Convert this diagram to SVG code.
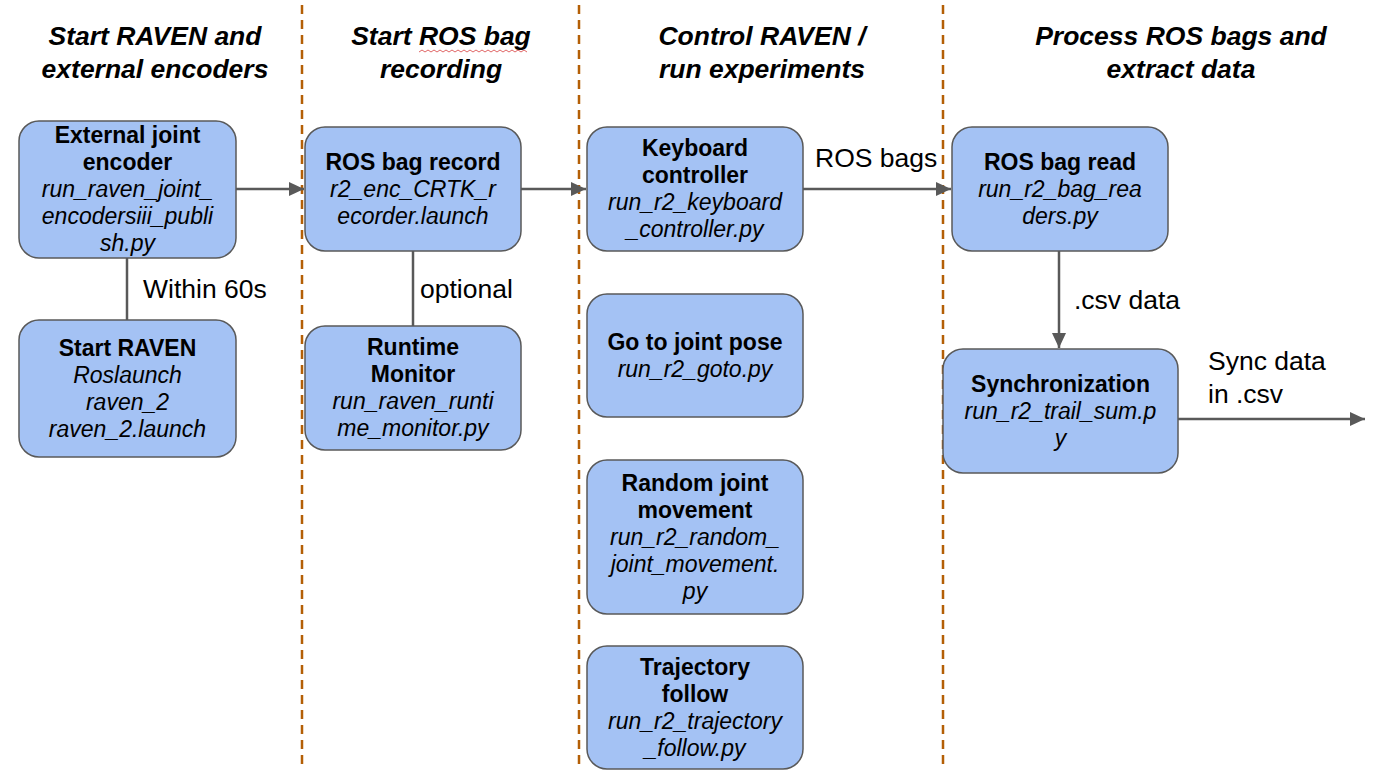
<svg xmlns="http://www.w3.org/2000/svg" width="1376" height="774" viewBox="0 0 1376 774">
<defs>
<marker id="ah" markerWidth="16" markerHeight="14" refX="15" refY="7" orient="auto" markerUnits="userSpaceOnUse">
<path d="M0,0 L15,7 L0,14 Z" fill="#595959"/>
</marker>
<style>
.box{fill:#a4c2f4;stroke:#595959;stroke-width:1.5}
.t{font-family:"Liberation Sans",Arial,sans-serif;font-size:23px;fill:#000;text-anchor:middle}
.b{font-weight:bold}
.i{font-style:italic}
.h{font-family:"Liberation Sans",Arial,sans-serif;font-size:26.5px;font-weight:bold;font-style:italic;fill:#000;text-anchor:middle}
.lbl{font-family:"Liberation Sans",Arial,sans-serif;font-size:26.5px;fill:#000}
.sep{stroke:#b45f06;stroke-width:2.5;stroke-dasharray:9 6;fill:none}
.c{stroke:#595959;stroke-width:2.5;fill:none}
</style>
</defs>
<rect width="1376" height="774" fill="#fff"/>

<g id="separators">
<line class="sep" x1="302" y1="5" x2="302" y2="768"/>
<line class="sep" x1="579" y1="5" x2="579" y2="768"/>
<line class="sep" x1="943" y1="5" x2="943" y2="768"/>
</g>

<g id="headings">
<text class="h" x="155" y="45">Start RAVEN and</text>
<text class="h" x="155" y="78">external encoders</text>
<text class="h" x="441" y="45">Start ROS bag</text>
<text class="h" x="441" y="78">recording</text>
<path d="M419,52 l3,-2 l3,2 l3,-2 l3,2 l3,-2 l3,2 l3,-2 l3,2 l3,-2 l3,2 l3,-2 l3,2 l3,-2 l3,2 l3,-2 l3,2 l3,-2 l3,2 l3,-2 l3,2 l3,-2 l3,2 l3,-2 l3,2 l3,-2 l3,2 l3,-2 l3,2 l3,-2 l3,2 l3,-2 l3,2 l3,-2 l3,2 l3,-2 l3,2" fill="none" stroke="#e06666" stroke-width="1"/>
<text class="h" x="762" y="45">Control RAVEN /</text>
<text class="h" x="762" y="78">run experiments</text>
<text class="h" x="1181" y="45">Process ROS bags and</text>
<text class="h" x="1181" y="78">extract data</text>
</g>

<g id="connectors">
<line class="c" x1="236" y1="189" x2="304" y2="189" marker-end="url(#ah)"/>
<line class="c" x1="127" y1="258" x2="127" y2="320"/>
<line class="c" x1="413" y1="251" x2="413" y2="326"/>
<line class="c" x1="521" y1="189" x2="586" y2="189" marker-end="url(#ah)"/>
<line class="c" x1="803" y1="189" x2="951" y2="189" marker-end="url(#ah)"/>
<line class="c" x1="1059" y1="251" x2="1059" y2="348" marker-end="url(#ah)"/>
<line class="c" x1="1178" y1="419" x2="1365" y2="419" marker-end="url(#ah)"/>
<text class="lbl" x="143" y="298">Within 60s</text>
<text class="lbl" x="420" y="298">optional</text>
<text class="lbl" x="815" y="167">ROS bags</text>
<text class="lbl" x="1074" y="309">.csv data</text>
<text class="lbl" x="1208" y="370">Sync data</text>
<text class="lbl" x="1208" y="403">in .csv</text>
</g>

<g id="external-encoder">
<rect class="box" x="19" y="121" width="217" height="137" rx="20"/>
<text class="t b" x="127.5" y="143">External joint</text>
<text class="t b" x="127.5" y="170">encoder</text>
<text class="t i" x="127.5" y="197">run_raven_joint_</text>
<text class="t i" x="127.5" y="224">encodersiii_publi</text>
<text class="t i" x="127.5" y="251">sh.py</text>
</g>

<g id="start-raven">
<rect class="box" x="19" y="320" width="217" height="137" rx="20"/>
<text class="t b" x="127.5" y="356">Start RAVEN</text>
<text class="t i" x="127.5" y="383">Roslaunch</text>
<text class="t i" x="127.5" y="410">raven_2</text>
<text class="t i" x="127.5" y="437">raven_2.launch</text>
</g>

<g id="rosbag-record">
<rect class="box" x="305" y="127" width="216" height="124" rx="20"/>
<text class="t b" x="413" y="170">ROS bag record</text>
<text class="t i" x="413" y="197">r2_enc_CRTK_r</text>
<text class="t i" x="413" y="224">ecorder.launch</text>
</g>

<g id="runtime-monitor">
<rect class="box" x="305" y="326" width="216" height="124" rx="20"/>
<text class="t b" x="413" y="355">Runtime</text>
<text class="t b" x="413" y="382">Monitor</text>
<text class="t i" x="413" y="409">run_raven_runti</text>
<text class="t i" x="413" y="436">me_monitor.py</text>
</g>

<g id="keyboard-controller">
<rect class="box" x="587" y="127" width="216" height="124" rx="20"/>
<text class="t b" x="695" y="156">Keyboard</text>
<text class="t b" x="695" y="183">controller</text>
<text class="t i" x="695" y="210">run_r2_keyboard</text>
<text class="t i" x="695" y="237">_controller.py</text>
</g>

<g id="goto-joint-pose">
<rect class="box" x="587" y="294" width="216" height="123" rx="20"/>
<text class="t b" x="695" y="350">Go to joint pose</text>
<text class="t i" x="695" y="377">run_r2_goto.py</text>
</g>

<g id="random-joint-movement">
<rect class="box" x="587" y="460" width="216" height="154" rx="20"/>
<text class="t b" x="695" y="491">Random joint</text>
<text class="t b" x="695" y="518">movement</text>
<text class="t i" x="695" y="545">run_r2_random_</text>
<text class="t i" x="695" y="572">joint_movement.</text>
<text class="t i" x="695" y="599">py</text>
</g>

<g id="trajectory-follow">
<rect class="box" x="587" y="646" width="216" height="123" rx="20"/>
<text class="t b" x="695" y="675">Trajectory</text>
<text class="t b" x="695" y="702">follow</text>
<text class="t i" x="695" y="729">run_r2_trajectory</text>
<text class="t i" x="695" y="756">_follow.py</text>
</g>

<g id="rosbag-read">
<rect class="box" x="952" y="127" width="216" height="124" rx="20"/>
<text class="t b" x="1060" y="170">ROS bag read</text>
<text class="t i" x="1060" y="197">run_r2_bag_rea</text>
<text class="t i" x="1060" y="224">ders.py</text>
</g>

<g id="synchronization">
<rect class="box" x="943" y="349" width="235" height="124" rx="20"/>
<text class="t b" x="1060.5" y="392">Synchronization</text>
<text class="t i" x="1060.5" y="419">run_r2_trail_sum.p</text>
<text class="t i" x="1060.5" y="446">y</text>
</g>
</svg>
